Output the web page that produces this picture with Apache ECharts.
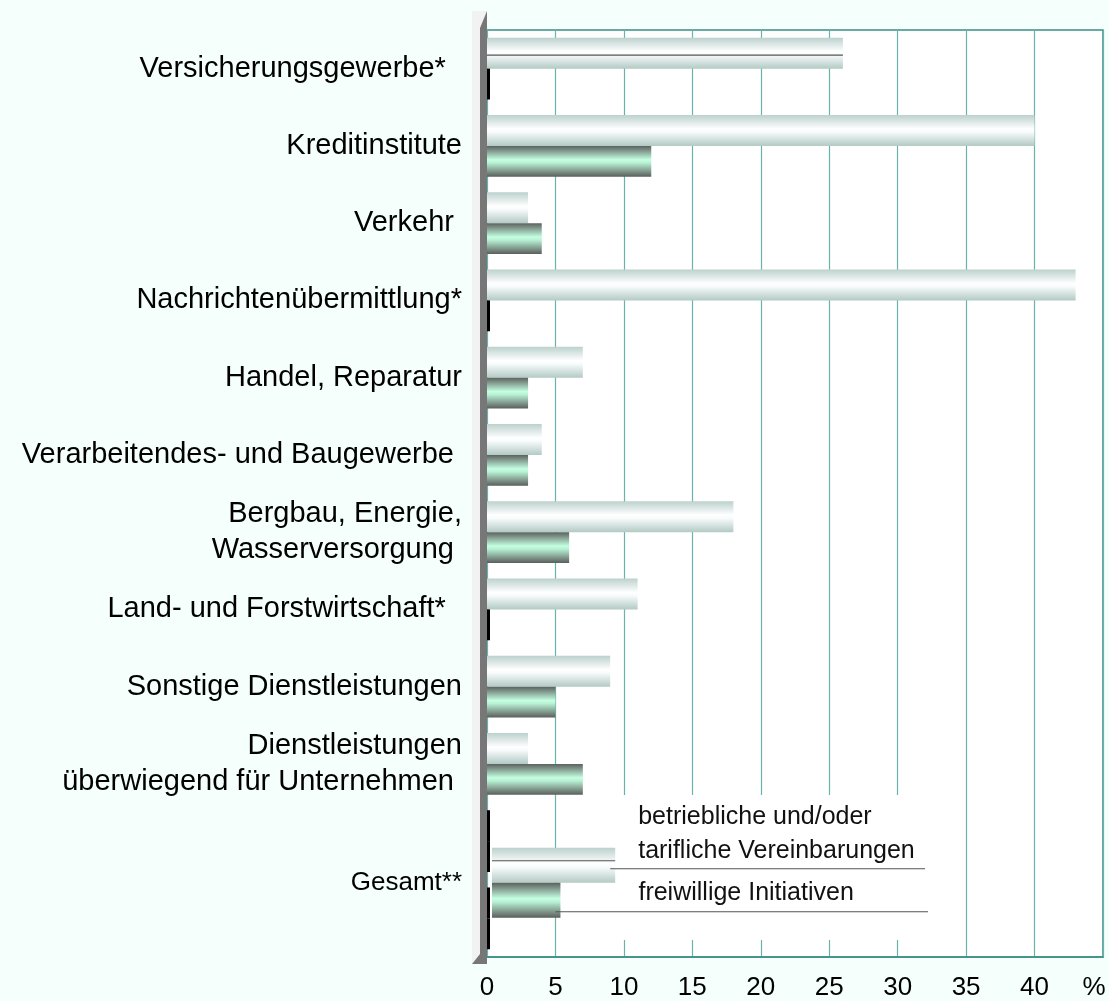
<!DOCTYPE html>
<html><head><meta charset="utf-8">
<script src="https://cdn.jsdelivr.net/npm/echarts@6/dist/echarts.min.js"></script>
<style>html,body{margin:0;padding:0;background:#F5FFFB;}#c{width:1109px;height:1001px;}</style>
</head><body><div id="c"></div>
<script>
// ---- data ----
const categories = ['Versicherungsgewerbe*  ','Kreditinstitute','Verkehr ','Nachrichtenübermittlung*','Handel, Reparatur','Verarbeitendes- und Baugewerbe ','Bergbau, Energie,\nWasserversorgung ','Land- und Forstwirtschaft*  ','Sonstige Dienstleistungen','Dienstleistungen\nüberwiegend für Unternehmen ','',''];
const vereinbarungen = [26,40,3,43,7,4,18,11,9,3,0,0];
const freiwillig = [0,12,4,0,3,3,6,0,5,7,0,0];
const gesamtCategory = ['Gesamt**'];
const gesamtVereinbarungen = [9];
const gesamtFreiwillig = [5];
const seriesNames = ['betriebliche und/oder\ntarifliche Vereinbarungen','freiwillige Initiativen'];
const xTicks = {min:0, max:45, interval:5};

const FONT = "'Liberation Sans', Arial, sans-serif";
const lightGrad = {type:'linear',x:0,y:0,x2:0,y2:1,colorStops:[
  {offset:0,color:'#BBD1CD'},{offset:0.45,color:'#FFFFFF'},{offset:0.55,color:'#F8FCFC'},{offset:1,color:'#B3CAC5'}]};
const darkGrad = {type:'linear',x:0,y:0,x2:0,y2:1,colorStops:[
  {offset:0,color:'#5C605E'},{offset:0.45,color:'#C4FFE2'},{offset:0.55,color:'#B8F0D4'},{offset:1,color:'#5A5E5C'}]};
function mark(arr){return arr.map(v=> v===0 ? {value:0,itemStyle:{color:'#000'}} : v);}

const chart = echarts.init(document.getElementById('c'), null, {renderer:'canvas'});
const option = {
  backgroundColor:'#F5FFFB',
  animation:false,
  textStyle:{fontFamily:FONT},
  grid:[
    {left:487, right:6, top:30, bottom:44, show:true, backgroundColor:'#FFFFFF', borderColor:'#3A8F86', borderWidth:1.5},
    {left:492, width:616, top:805.5, height:154.5}
  ],
  xAxis:[
    {type:'value', gridIndex:0, min:xTicks.min, max:xTicks.max, interval:xTicks.interval,
     axisLine:{show:true, lineStyle:{color:'#3A8F86', width:1.5}},
     axisTick:{show:false},
     splitLine:{show:true, lineStyle:{color:'#6AB3AC', width:1.2}},
     axisLabel:{fontSize:26, color:'#000', margin:18, fontFamily:FONT,
       formatter: v => v===45 ? '{p|%}' : String(v),
       rich:{p:{fontSize:26, color:'#000', fontFamily:FONT, padding:[0,18,0,0]}}}},
    {type:'value', gridIndex:1, min:xTicks.min, max:xTicks.max, show:false}
  ],
  yAxis:[
    {type:'category', gridIndex:0, data:categories, inverse:true,
     axisLine:{show:false}, axisTick:{show:false}, splitLine:{show:false},
     axisLabel:{fontSize:29, color:'#000', margin:25, lineHeight:36, fontFamily:FONT}},
    {type:'category', gridIndex:1, data:gesamtCategory,
     axisLine:{show:false}, axisTick:{show:false},
     axisLabel:{fontSize:26, color:'#000', margin:30, fontFamily:FONT}}
  ],
  series:[
    {type:'bar', name:seriesNames[0], xAxisIndex:0, yAxisIndex:0, data:mark(vereinbarungen),
     barCategoryGap:'20%', barGap:'0%', barMinHeight:3, itemStyle:{color:lightGrad}},
    {type:'bar', name:seriesNames[1], xAxisIndex:0, yAxisIndex:0, data:mark(freiwillig),
     barCategoryGap:'20%', barGap:'0%', barMinHeight:3, itemStyle:{color:darkGrad}},
    {type:'bar', name:seriesNames[0], xAxisIndex:1, yAxisIndex:1, data:gesamtVereinbarungen,
     barWidth:35, barGap:'0%', itemStyle:{color:lightGrad}, z:5,
     label:{show:true, position:'right', distance:23, offset:[0,-31], formatter:()=>seriesNames[0],
       fontSize:25, lineHeight:34, color:'#111', fontFamily:FONT}},
    {type:'bar', name:seriesNames[1], xAxisIndex:1, yAxisIndex:1, data:gesamtFreiwillig,
     barWidth:35, barGap:'0%', itemStyle:{color:darkGrad}, z:5,
     label:{show:true, position:'right', distance:78, offset:[0,-7], formatter:()=>seriesNames[1],
       fontSize:25, color:'#111', fontFamily:FONT}}
  ]
};
chart.setOption(option);

// decorations derived from the scales
const p0 = chart.convertToPixel({gridIndex:0}, [0, 0]);
const pV = chart.convertToPixel({gridIndex:0}, [vereinbarungen[0], 0]);
const g0 = chart.convertToPixel({gridIndex:1}, [0, 0]);
const gV = chart.convertToPixel({gridIndex:1}, [gesamtVereinbarungen[0], 0]);
const gF = chart.convertToPixel({gridIndex:1}, [gesamtFreiwillig[0], 0]);
const lineStyle = {stroke:'#555', lineWidth:1.2};
chart.setOption({graphic:[
  {type:'rect', z:1, silent:true, shape:{x:575, y:795, width:370, height:145}, style:{fill:'#FFFFFF'}},
  {type:'rect', z:10, silent:true, shape:{x:472, y:11, width:15, height:953}, style:{fill:'#F2F2F2'}},
  {type:'polygon', z:11, silent:true, shape:{points:[[480,28],[487,11],[487,964],[472,964],[480,954]]}, style:{fill:'#777777'}},
  {type:'line', z:20, silent:true, shape:{x1:p0[0], y1:p0[1]-13.5, x2:pV[0], y2:p0[1]-13.5}, style:lineStyle},
  {type:'line', z:20, silent:true, shape:{x1:g0[0], y1:g0[1]-22, x2:gV[0], y2:g0[1]-22}, style:lineStyle},
  {type:'line', z:20, silent:true, shape:{x1:gV[0]-5, y1:g0[1]-14, x2:925, y2:g0[1]-14}, style:lineStyle},
  {type:'line', z:20, silent:true, shape:{x1:gF[0]-5, y1:g0[1]+29, x2:928, y2:g0[1]+29}, style:lineStyle}
]});
</script></body></html>
